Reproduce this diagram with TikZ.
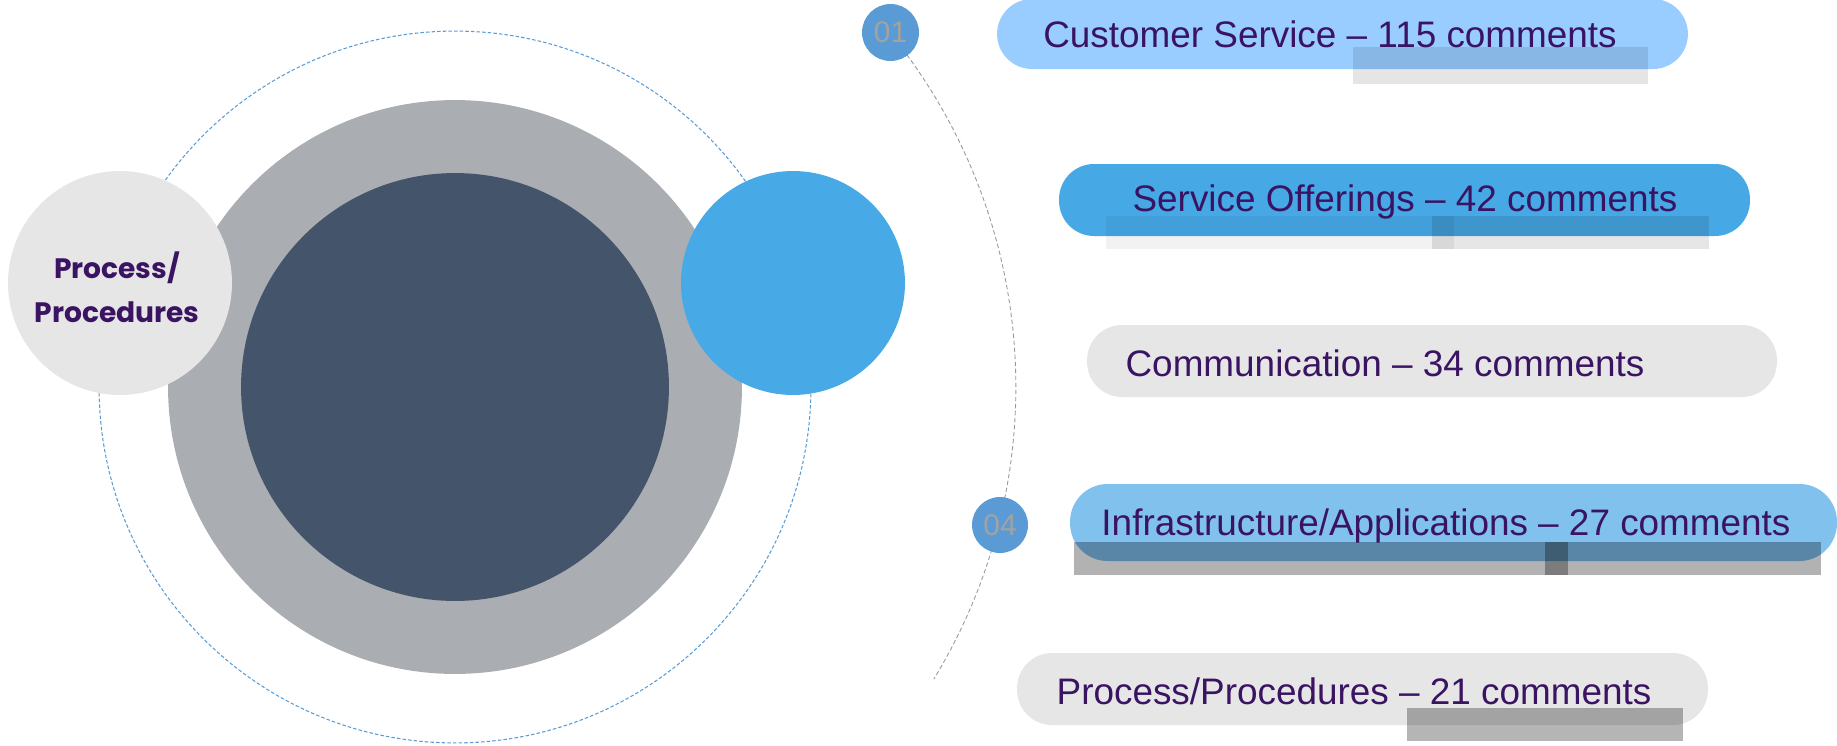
\documentclass[tikz,border=0pt]{standalone}
\usepackage{fontspec}
\setmainfont{Liberation Sans}
\newfontfamily\geofont{Poppins}
\definecolor{ringgray}{HTML}{AAADB1}
\definecolor{darkcore}{HTML}{44546A}
\definecolor{lightdisc}{HTML}{E7E6E6}
\definecolor{bluedisc}{HTML}{47AAE7}
\definecolor{numblue}{HTML}{5B9BD5}
\definecolor{numgray}{HTML}{A2A2A2}
\definecolor{txtpurple}{HTML}{3A1462}
\definecolor{pillone}{HTML}{99CCFF}
\definecolor{pilltwo}{HTML}{46A8E5}
\definecolor{pillfour}{HTML}{80C1EE}
\definecolor{pillgray}{HTML}{E7E6E6}
\tikzset{
  disc/.style={circle, inner sep=0pt, draw=none},
  pillbox/.style={rectangle, inner sep=0pt, draw=none, rounded corners=0.7cm},
  pilltext/.style={text=txtpurple, inner sep=0pt, font=\fontsize{21}{25}\selectfont},
  numtext/.style={text=numgray, inner sep=0pt, font=\fontsize{17}{20}\selectfont},
  artifact/.style={fill=black, draw=none}
}
\begin{document}
\begin{tikzpicture}[x=0.02cm,y=-0.02cm]
\useasboundingbox (0,0) rectangle (1837,745);
% left composition
\coordinate (c) at (455,387);
\node[disc, minimum size=14.24cm, draw=numblue, line width=0.6pt, dash pattern=on 2pt off 1.2pt] (dashring) at (c) {};
\node[disc, fill=ringgray, minimum size=11.48cm] (ring) at (c) {};
\node[disc, fill=darkcore, minimum size=8.56cm] (core) at (c) {};
\node[disc, fill=lightdisc, minimum size=4.48cm] (leftdisc) at (120,283) {};
\node[disc, fill=bluedisc, minimum size=4.48cm] (rightdisc) at (793,283) {};
\node[align=center, text=txtpurple, inner sep=0pt, font=\geofont\bfseries\fontsize{16}{25}\selectfont] (lefttext) at (117,287) {Process/\\Procedures};
% arc
\draw[gray!80, line width=0.5pt, dash pattern=on 2.5pt off 1.5pt] (c) ++(39.2:11.22cm) arc[start angle=39.2, end angle=-31.4, radius=11.22cm];
\node[disc, fill=numblue, minimum size=1.14cm] (n1) at (890.5,32.5) {};
\node[numtext] (n1t) at (n1) {01};
\node[disc, fill=numblue, minimum size=1.12cm] (n4) at (1000,525) {};
\node[numtext] (n4t) at (n4) {04};
% pills
\node[pillbox, fill=pillone, minimum width=13.82cm, minimum height=1.40cm] (p1) at (1342.5,34) {};
\node[pillbox, fill=pilltwo, minimum width=13.82cm, minimum height=1.44cm] (p2) at (1404.5,200) {};
\node[pillbox, fill=pillgray, minimum width=13.80cm, minimum height=1.44cm] (p3) at (1432,361) {};
\node[pillbox, fill=pillfour, minimum width=15.34cm, minimum height=1.54cm, rounded corners=0.75cm] (p4) at (1453.5,522.5) {};
\node[pillbox, fill=pillgray, minimum width=13.82cm, minimum height=1.44cm] (p5) at (1362.5,689) {};
% rendering bands
\fill[artifact, opacity=0.1] (1353,47) rectangle (1648,84);
\fill[artifact, opacity=0.05] (1106,216) rectangle (1709,249);
\fill[artifact, opacity=0.05] (1432,216) rectangle (1709,249);
\fill[artifact, opacity=0.06] (1432,216) rectangle (1454,249);
\fill[artifact, opacity=0.3] (1074,542) rectangle (1821,575);
\fill[artifact, opacity=0.3] (1545,542) rectangle (1568,575);
\fill[artifact, opacity=0.29] (1407,708) rectangle (1683,741);
% labels
\node[pilltext] (t1) at (1330,34) {Customer Service – 115 comments};
\node[pilltext] (t2) at (1405,202) {Service Offerings – 42 comments};
\node[pilltext] (t3) at (1385,363) {Communication – 34 comments};
\node[pilltext] (t4) at (1446,526) {Infrastructure/Applications – 27 comments};
\node[pilltext] (t5) at (1354,691) {Process/Procedures – 21 comments};
\end{tikzpicture}
\end{document}
